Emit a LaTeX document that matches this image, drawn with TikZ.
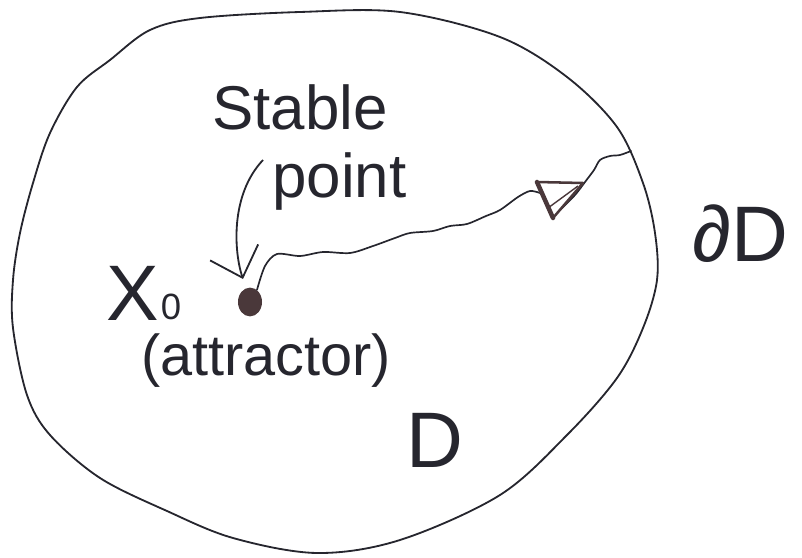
\documentclass[tikz,border=0pt]{standalone}
\usepackage{fontspec}
\setmainfont{Liberation Sans}
\usetikzlibrary{arrows.meta, positioning, shapes.geometric}
\definecolor{ink}{RGB}{38,38,46}
\definecolor{blot}{RGB}{74,56,58}

\begin{document}
\begin{tikzpicture}[
  x=0.025cm, y=-0.025cm,
  every node/.style={text=ink, inner sep=0pt},
  handtext/.style={font=\fontsize{44}{48}\selectfont},
  bigtext/.style={font=\fontsize{56}{60}\selectfont},
  subtext/.style={font=\fontsize{26}{28}\selectfont},
  dotmark/.style={ellipse, fill=blot, minimum width=0.6cm, minimum height=0.72cm},
  wiggle/.style={draw=ink, line width=1.2pt, line join=round, line cap=round},
  >=Stealth
]
\useasboundingbox (0,0) rectangle (802,558);

% boundary of D
\draw[ink, line width=1.3pt] plot[smooth cycle, tension=0.55] coordinates {
  (400,12) (500,37) (567,77) (617,127) (643,183) (655,233) (657,280)
  (643,328) (617,378) (567,435) (500,495) (400,540) (317,553) (233,538)
  (167,511) (100,478) (50,435) (27,395) (13,328) (13,280) (20,233)
  (33,183) (50,133) (77,87) (110,60) (150,30) (200,18) (300,12)};

% labels
\node[handtext, anchor=base west] (stable) at (212,130) {Stable};
\node[handtext, anchor=base west] (point) at (272,197) {point};
\node[bigtext, anchor=base west] (xsym) at (106,320) {X};
\node[subtext, right=1pt of xsym.south east, anchor=south west] (xsub) {0};
\node[font=\fontsize{41}{44}\selectfont, anchor=base west] (attlbl) at (141,375) {(attractor)};
\node[bigtext] (dom) at (435,440) {D};
\node[bigtext] (bdry) at (740,234) {∂D};

% the stable point
\node[dotmark] (attr) at (250,302) {};

% arrow to the stable point
\coordinate (arrtop) at (263,160);
\coordinate (arrtip) at (243,279);
\draw[ink, line width=1.3pt, -{Straight Barb[length=19pt, width=36pt]}]
  (arrtop) .. controls (230,195) and (234,252) .. (arrtip);

% path from the attractor out to the boundary
\coordinate (tri1) at (537,182);
\coordinate (tri2) at (583,183);
\coordinate (tri3) at (553,218);
\coordinate (exit) at (631,151);
\draw[wiggle] plot[smooth, tension=0.5] coordinates {
  (attr.60) (265,266) (277,254) (300,256) (323,252) (350,253) (373,246)
  (395,238) (410,233) (433,231) (450,226) (467,224) (486,216) (500,210)
  (518,197) (530,191) (540,193)};
\draw[wiggle] plot[smooth, tension=0.5] coordinates {
  (560,210) (575,195) (585,182) (594,170) (600,160) (610,156) (620,155) (exit)};

% the marker on the path
\draw[blot, line width=1.8pt, line join=round] (tri1) -- (tri2) -- (tri3) -- cycle;
\draw[blot, line width=3.2pt, line cap=round] (tri1) -- (tri3);
\draw[blot, line width=1pt] (548,208) -- (578,186);

\end{tikzpicture}
\end{document}
